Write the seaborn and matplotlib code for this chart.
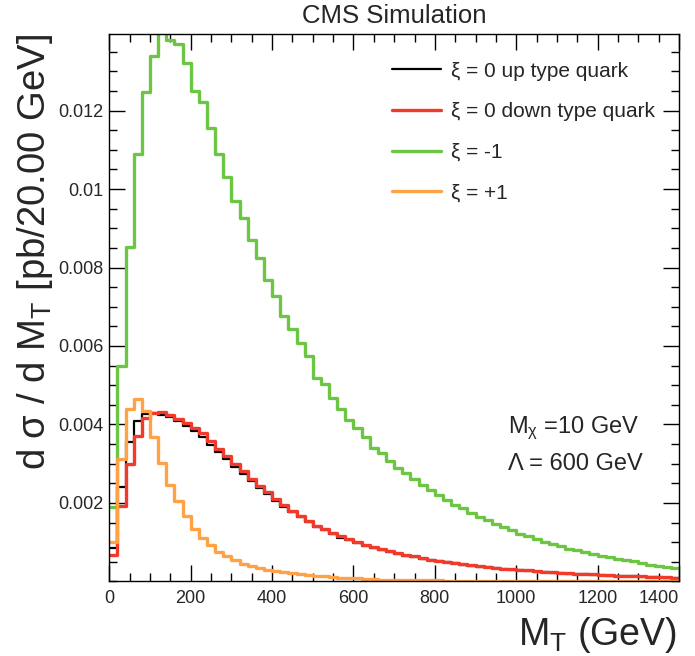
import numpy as np
import pandas as pd
import seaborn as sns
import matplotlib
matplotlib.use("Agg")
import matplotlib.pyplot as plt
from matplotlib.lines import Line2D
from matplotlib.ticker import MultipleLocator, FuncFormatter

# ---- data: 70 bins of 20 GeV, 0..1400 GeV ----
bin_edges = list(range(0, 1420, 20))

xi0_up = [0.00085, 0.00240, 0.00355, 0.00410, 0.00428, 0.00430, 0.00425, 0.00418, 0.00408, 0.00396,
          0.00383, 0.00368, 0.00349, 0.00329, 0.00311, 0.00291, 0.00274, 0.00255, 0.00238, 0.00222,
          0.00205, 0.00190, 0.00176, 0.00164, 0.00151, 0.00139, 0.00131, 0.00121, 0.00112, 0.00105,
          0.00097, 0.00091, 0.00086, 0.00080, 0.00075, 0.00071, 0.00066, 0.00062, 0.00058, 0.00055,
          0.00052, 0.00049, 0.00046, 0.00043, 0.00040, 0.00038, 0.00036, 0.00034, 0.00032, 0.00030,
          0.00028, 0.00027, 0.00025, 0.00024, 0.00022, 0.00021, 0.00020, 0.00019, 0.00018, 0.00017,
          0.00016, 0.00015, 0.00014, 0.00014, 0.00013, 0.00012, 0.00011, 0.00011, 0.00010, 0.00010]

xi0_down = [0.00067, 0.00193, 0.00299, 0.00371, 0.00417, 0.00430, 0.00432, 0.00424, 0.00415, 0.00405,
            0.00392, 0.00379, 0.00358, 0.00337, 0.00320, 0.00299, 0.00282, 0.00261, 0.00244, 0.00227,
            0.00210, 0.00195, 0.00180, 0.00168, 0.00155, 0.00142, 0.00134, 0.00124, 0.00115, 0.00108,
            0.00100, 0.00094, 0.00089, 0.00083, 0.00077, 0.00073, 0.00068, 0.00064, 0.00060, 0.00056,
            0.00053, 0.00050, 0.00047, 0.00044, 0.00041, 0.00039, 0.00037, 0.00035, 0.00033, 0.00031,
            0.00029, 0.00028, 0.00026, 0.00025, 0.00023, 0.00022, 0.00021, 0.00020, 0.00019, 0.00018,
            0.00017, 0.00016, 0.00015, 0.00014, 0.00014, 0.00013, 0.00012, 0.00012, 0.00011, 0.00010]

xi_minus1 = [0.00190, 0.00550, 0.00853, 0.01090, 0.01248, 0.01340, 0.01400, 0.01380, 0.01369, 0.01321,
             0.01249, 0.01221, 0.01156, 0.01090, 0.01031, 0.00970, 0.00927, 0.00870, 0.00825, 0.00769,
             0.00728, 0.00677, 0.00643, 0.00608, 0.00574, 0.00519, 0.00502, 0.00468, 0.00439, 0.00411,
             0.00390, 0.00367, 0.00339, 0.00327, 0.00307, 0.00290, 0.00276, 0.00260, 0.00246, 0.00232,
             0.00220, 0.00208, 0.00196, 0.00186, 0.00174, 0.00165, 0.00156, 0.00146, 0.00138, 0.00130,
             0.00122, 0.00115, 0.00108, 0.00101, 0.00095, 0.00090, 0.00084, 0.00079, 0.00074, 0.00070,
             0.00066, 0.00062, 0.00058, 0.00055, 0.00051, 0.00046, 0.00043, 0.00040, 0.00038, 0.00035]

xi_plus1 = [0.00100, 0.00312, 0.00439, 0.00464, 0.00434, 0.00367, 0.00303, 0.00246, 0.00206, 0.00168,
            0.00134, 0.00110, 0.00092, 0.00076, 0.00064, 0.00054, 0.00045, 0.00040, 0.00035, 0.00030,
            0.00027, 0.00024, 0.00021, 0.00019, 0.00017, 0.00015, 0.00013, 0.00011, 0.00010, 0.00009,
            0.00008, 0.00007, 0.00006, 0.00005, 0.00005, 0.00004, 0.00004, 0.00003, 0.00003, 0.00003,
            0.00003, 0.00002, 0.00002, 0.00002, 0.00002, 0.00002, 0.00002, 0.00002, 0.00001, 0.00001,
            0.00001, 0.00001, 0.00001, 0.00001, 0.00001, 0.00001, 0.00001, 0.00001, 0.00001, 0.00001,
            0.00001, 0.00001, 0.00001, 0.00001, 0.00001, 0.00001, 0.00001, 0.00001, 0.00001, 0.00001]

series_labels = ["ξ = 0 up type quark", "ξ = 0 down type quark", "ξ = -1", "ξ = +1"]
series_colors = ["#000000", "#f23a2a", "#6cc644", "#ffa245"]
series_widths = [1.6, 2.4, 2.4, 2.4]
y_tick_values = [0.002, 0.004, 0.006, 0.008, 0.010, 0.012]
x_tick_values = list(range(0, 1600, 200))

# ---- style ----
sns.set_style("ticks")
plt.rcParams["font.family"] = ["Liberation Sans", "DejaVu Sans"]
plt.rcParams["mathtext.default"] = "regular"

centers = [0.5 * (a + b) for a, b in zip(bin_edges[:-1], bin_edges[1:])]
all_series = [xi0_up, xi0_down, xi_minus1, xi_plus1]
df = pd.concat([pd.DataFrame({"mt": centers, "w": vals, "sample": lab})
                for vals, lab in zip(all_series, series_labels)], ignore_index=True)

fig = plt.figure(figsize=(6.95, 6.56), dpi=100)
ax = fig.add_axes([0.1573, 0.1136, 0.8197, 0.8346])

for lab, col, lw in zip(series_labels, series_colors, series_widths):
    sns.histplot(data=df[df["sample"] == lab], x="mt", weights="w", bins=bin_edges,
                 element="step", fill=False, color=col, linewidth=lw, ax=ax)

ax.set_xlim(0, 1400)
ax.set_ylim(0, 0.01395)
ax.set_xticks(x_tick_values)
ax.set_yticks(y_tick_values)
ax.yaxis.set_major_formatter(FuncFormatter(lambda v, p: f"{v:g}"))
ax.xaxis.set_minor_locator(MultipleLocator(50))
ax.yaxis.set_minor_locator(MultipleLocator(0.0005))
ax.tick_params(which="both", direction="in", top=True, right=True, width=1.0, color="black")
ax.tick_params(which="major", length=11.5, labelsize=13)
ax.tick_params(which="minor", length=5.5)
ax.tick_params(axis="x", which="major", pad=6)
ax.tick_params(axis="y", which="major", pad=4)
for s in ax.spines.values():
    s.set_visible(True)
    s.set_linewidth(1.0)
    s.set_color("black")
xt = ax.get_xticklabels()
xt[-1].set_horizontalalignment("right")

ax.set_xlabel("M$_{T}$ (GeV)", fontsize=27, loc="right")
ax.xaxis.set_label_coords(0.997, -0.062)
ax.set_ylabel("d σ / d M$_{T}$ [pb/20.00 GeV]", fontsize=27.5, loc="top")
ax.yaxis.set_label_coords(-0.095, 1.0)
ax.set_title("CMS Simulation", fontsize=18.5, pad=8)

handles = [Line2D([], [], color=c, linewidth=lw) for c, lw in zip(series_colors, series_widths)]
ax.legend(handles, series_labels, loc="upper left", bbox_to_anchor=(0.496, 0.9495),
          frameon=False, fontsize=15, handlelength=2.35, handletextpad=0.48,
          labelspacing=1.04, borderpad=0, borderaxespad=0)

ax.text(0.70, 0.271, "M$_{χ}$ =10 GeV", transform=ax.transAxes, fontsize=17,
        ha="left", va="baseline")
ax.text(0.70, 0.204, "Λ = 600 GeV", transform=ax.transAxes, fontsize=17,
        ha="left", va="baseline")

fig.savefig("out.png", dpi=100)
